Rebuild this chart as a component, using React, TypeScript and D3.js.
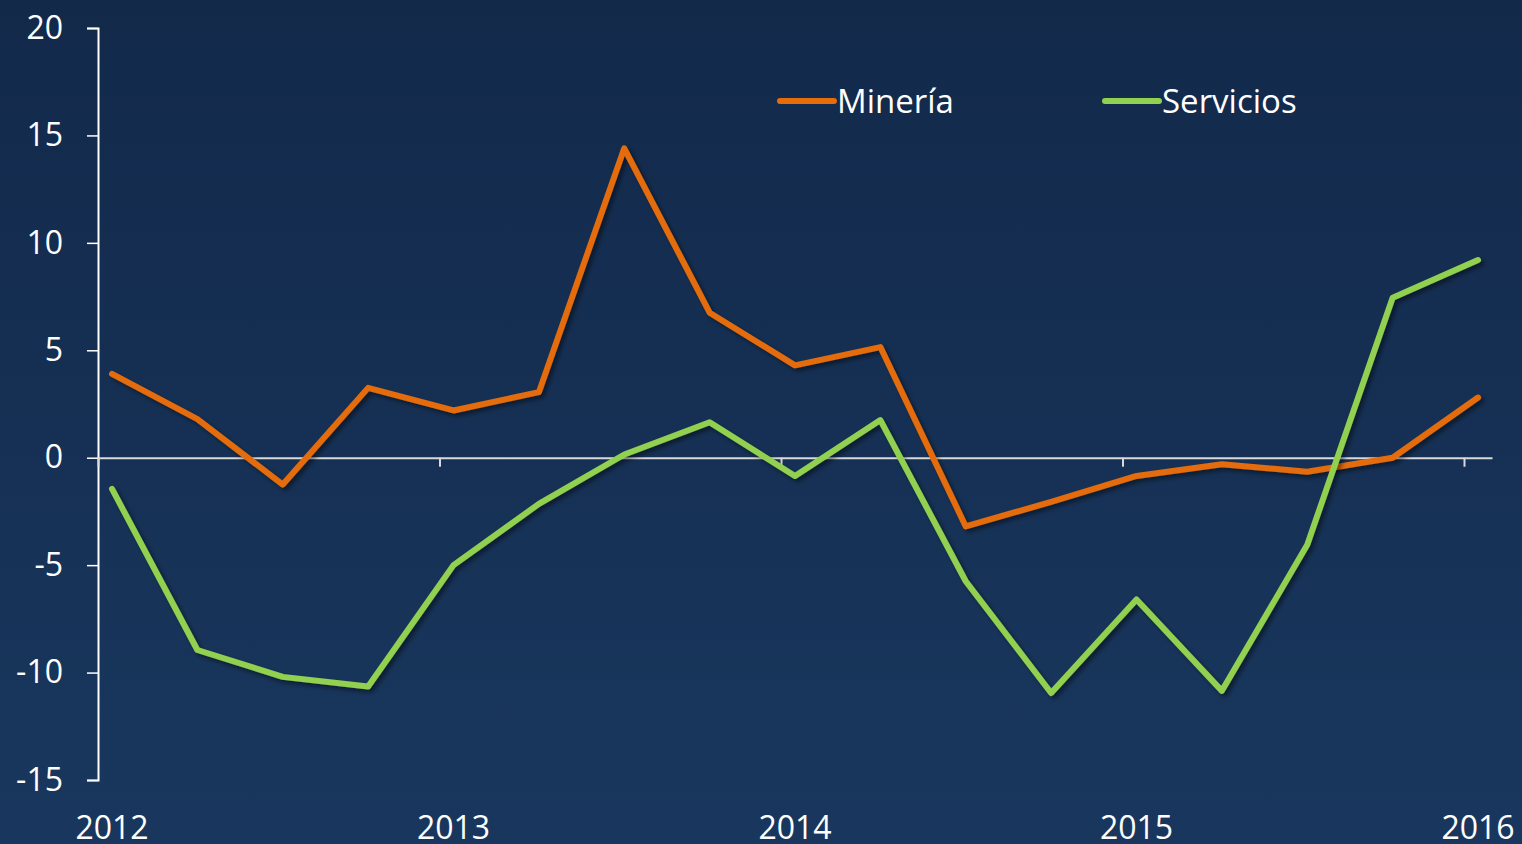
import React, { useEffect, useRef } from 'react';
import * as d3 from 'd3';

const years = ['2012', '2013', '2014', '2015', '2016'];
// quarterly points, 2012Q1 .. 2016Q1
const mineria = [3.9, 1.8, -1.25, 3.25, 2.2, 3.05, 14.4, 6.75, 4.3, 5.15, -3.2, -2.05, -0.85, -0.3, -0.65, 0.0, 2.8];
const servicios = [-1.45, -8.95, -10.2, -10.65, -5.0, -2.15, 0.15, 1.65, -0.85, 1.75, -5.75, -10.95, -6.6, -10.85, -4.05, 7.45, 9.2];
const yTicks = [-15, -10, -5, 0, 5, 10, 15, 20];

const series = [
  { name: 'Minería', values: mineria, color: '#E46C0A' },
  { name: 'Servicios', values: servicios, color: '#92D050' },
];

const W = 1522;
const H = 844;
const FONT = '"Open Sans", sans-serif';

const App: React.FC = () => {
  const svgRef = useRef<SVGSVGElement>(null);

  useEffect(() => {
    if (!svgRef.current) return;
    const svg = d3.select(svgRef.current);
    svg.selectAll('*').remove();

    const defs = svg.append('defs');
    const grad = defs.append('linearGradient')
      .attr('id', 'bg').attr('x1', 0).attr('y1', 0).attr('x2', 0).attr('y2', 1);
    grad.append('stop').attr('offset', '0%').attr('stop-color', '#12294a');
    grad.append('stop').attr('offset', '100%').attr('stop-color', '#19375e');

    const shadow = defs.append('filter').attr('id', 'shadow')
      .attr('x', '-10%').attr('y', '-10%').attr('width', '120%').attr('height', '120%');
    shadow.append('feDropShadow')
      .attr('dx', 3).attr('dy', 3).attr('stdDeviation', 2)
      .attr('flood-color', '#000').attr('flood-opacity', 0.45);

    svg.append('rect').attr('width', W).attr('height', H).attr('fill', 'url(#bg)');

    // x: quarter index; ticks between years sit slightly left of each Q1 point
    const x = d3.scaleLinear().domain([-0.164, 16.164]).range([98, 1492]);
    const y = d3.scaleLinear().domain([-15, 20]).range([780, 28]);

    const g = svg.append('g');

    // Y axis
    g.append('g')
      .attr('transform', 'translate(98,0)')
      .call(d3.axisLeft(y).tickValues(yTicks).tickSize(11).tickPadding(24).tickSizeOuter(11)
        .tickFormat(d => String(d)))
      .call(a => a.select('.domain').attr('stroke', '#ffffff').attr('stroke-width', 2))
      .call(a => a.selectAll('.tick line').attr('stroke', '#ffffff').attr('stroke-width', 1.5))
      .call(a => a.selectAll('text').attr('fill', '#ffffff').attr('font-size', '32px').attr('font-family', FONT));

    // X axis along zero
    const xTickVals = years.map((_, i) => -0.164 + 4 * i);
    g.append('g')
      .attr('transform', `translate(0,${y(0)})`)
      .call(d3.axisBottom(x).tickValues(xTickVals).tickSize(9).tickSizeOuter(0).tickFormat(() => ''))
      .call(a => a.select('.domain').attr('stroke', '#d9d9d9').attr('stroke-width', 2))
      .call(a => a.selectAll('.tick line').attr('stroke', '#d9d9d9').attr('stroke-width', 2));

    // Year labels under the chart
    g.append('g').selectAll('text')
      .data(years)
      .enter().append('text')
      .attr('x', (_, i) => x(i * 4))
      .attr('y', 839)
      .attr('text-anchor', 'middle')
      .attr('fill', '#ffffff')
      .attr('font-size', '32px')
      .attr('font-family', FONT)
      .text(d => d);

    // Lines
    const line = d3.line<number>().x((_, i) => x(i)).y(d => y(d));
    series.forEach(s => {
      g.append('path')
        .datum(s.values)
        .attr('d', line)
        .attr('fill', 'none')
        .attr('stroke', s.color)
        .attr('stroke-width', 6)
        .attr('stroke-linejoin', 'round')
        .attr('stroke-linecap', 'round')
        .attr('filter', 'url(#shadow)');
    });

    // Legend
    const legendX = [780, 1105];
    series.forEach((s, i) => {
      const lg = g.append('g').attr('transform', `translate(${legendX[i]},101)`);
      lg.append('line')
        .attr('x1', 0).attr('x2', 54)
        .attr('stroke', s.color).attr('stroke-width', 6).attr('stroke-linecap', 'round');
      lg.append('text')
        .attr('x', 57).attr('y', 12)
        .attr('fill', '#ffffff')
        .attr('font-size', '33px')
        .attr('font-family', FONT)
        .text(s.name);
    });
  }, []);

  return (
    <div style={{ position: 'fixed', left: 0, top: 0, width: W, height: H }}>
      <svg ref={svgRef} width={W} height={H} style={{ display: 'block' }} />
    </div>
  );
};

export default App;
